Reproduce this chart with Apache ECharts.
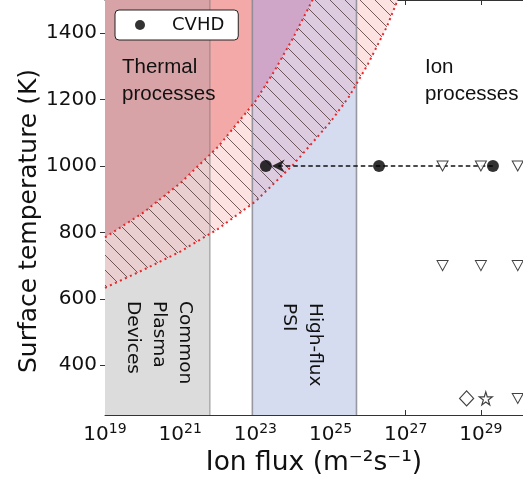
<!DOCTYPE html>
<html>
<head>
<meta charset="utf-8">
<style>
  html, body { margin: 0; padding: 0; background: #fff; }
  #chart { width: 523px; height: 480px; }
</style>
<script src="https://cdn.jsdelivr.net/npm/echarts@6.0.0/dist/echarts.min.js"></script>
</head>
<body>
<div id="chart"></div>
<script>
// x values are log10 of the ion flux (m^-2 s^-1)
var xTicks = [19, 21, 23, 25, 27, 29];
var yTicks = [400, 600, 800, 1000, 1200, 1400];
var commonPlasmaRange = [19, 21.79];
var highFluxRange = [22.92, 25.69];
var upperCurve = [[19, 785], [20, 858], [21, 948], [22, 1057], [23, 1195], [23.5, 1285], [24, 1385], [24.5, 1495], [25, 1620]];
var lowerCurve = [[19, 633], [20, 686], [21, 742], [22, 810], [23, 893], [24, 1003], [25, 1133], [25.5, 1210], [26, 1308], [26.5, 1420], [27, 1560]];
var cvhdPoints = [[23.28, 1000], [26.29, 1000], [29.32, 1000]];
var cvhdArrow = [[23.61, 1000]];
var cvhdTrend = [[23.61, 1000], [29.32, 1000]];
var openTriangles = [[27.98, 1000], [29.0, 1000], [29.98, 1000], [27.98, 700], [29.0, 700], [29.98, 700], [29.98, 300]];
var openDiamonds = [[28.62, 300]];
var openStars = [[29.13, 300]];

var X_MIN = 19, X_MAX = 30.12, Y_MIN = 250, Y_MAX = 1500;

// vertical strips: gray devices, white, blue PSI, white
var strips = [
  [X_MIN, commonPlasmaRange[1]],
  [commonPlasmaRange[1], highFluxRange[0]],
  [highFluxRange[0], highFluxRange[1]],
  [highFluxRange[1], X_MAX]
];
var stripBase = ['#dcdcdc', null, '#d5dcef', null];
var stripThermal = ['#d8a3a7', '#f4a9a9', '#d0a6c8', '#f4a9a9'];
var stripBand = ['#e9cfcf', '#fde2e2', '#ddcce0', '#fde2e2'];

var hatch = document.createElement('canvas');
hatch.width = 15; hatch.height = 15;
var hg = hatch.getContext('2d');
hg.strokeStyle = 'rgba(70,45,45,0.75)';
hg.lineWidth = 1;
[-15, 0, 15].forEach(function (k) {
  hg.beginPath(); hg.moveTo(k, 0); hg.lineTo(k + 15, 15); hg.stroke();
});

function clipHalf(poly, k, v, s) {
  var out = [];
  for (var i = 0; i < poly.length; i++) {
    var p = poly[i], q = poly[(i + 1) % poly.length];
    var pin = s * (p[k] - v) >= 0, qin = s * (q[k] - v) >= 0;
    if (pin) out.push(p);
    if (pin !== qin) {
      var t = (v - p[k]) / (q[k] - p[k]);
      out.push([p[0] + t * (q[0] - p[0]), p[1] + t * (q[1] - p[1])]);
    }
  }
  return out;
}
function clipRect(poly, x0, x1) {
  poly = clipHalf(poly, 0, x0, 1);
  poly = clipHalf(poly, 0, x1, -1);
  poly = clipHalf(poly, 1, Y_MIN, 1);
  poly = clipHalf(poly, 1, Y_MAX, -1);
  return poly;
}

var thermalPoly = upperCurve.concat([[25, 2000], [18, 2000], [18, upperCurve[0][1]]]);
var bandPoly = upperCurve.concat(lowerCurve.slice().reverse());

function renderRegions(params, api) {
  var i = params.dataIndex;
  var x0 = api.value(0), x1 = api.value(1);
  var kids = [];
  var tl = api.coord([x0, Y_MAX]), br = api.coord([x1, Y_MIN]);
  if (stripBase[i]) {
    kids.push({ type: 'rect', shape: { x: tl[0], y: tl[1], width: br[0] - tl[0], height: br[1] - tl[1] }, style: { fill: stripBase[i] } });
  }
  var th = clipRect(thermalPoly, x0, x1);
  if (th.length > 2) {
    kids.push({ type: 'polygon', shape: { points: th.map(function (p) { return api.coord(p); }) }, style: { fill: stripThermal[i] } });
  }
  var bd = clipRect(bandPoly, x0, x1);
  if (bd.length > 2) {
    var pts = bd.map(function (p) { return api.coord(p); });
    kids.push({ type: 'polygon', shape: { points: pts }, style: { fill: stripBand[i] } });
    kids.push({ type: 'polygon', shape: { points: pts }, style: { fill: { image: hatch, repeat: 'repeat' } } });
  }
  return { type: 'group', children: kids };
}

var boundaryColors = ['rgba(120,120,120,0.5)', 'rgba(130,130,140,0.8)', 'rgba(130,130,140,0.8)'];
function renderBounds(params, api) {
  var x = api.value(0);
  var a = api.coord([x, Y_MAX]), b = api.coord([x, Y_MIN]);
  return { type: 'line', shape: { x1: a[0], y1: a[1], x2: b[0], y2: b[1] }, style: { stroke: boundaryColors[params.dataIndex], lineWidth: 1.6 } };
}

var FONT = 'DejaVu Sans';
var chart = echarts.init(document.getElementById('chart'));
chart.setOption({
  animation: false,
  backgroundColor: '#fff',
  grid: { left: 105, right: 0, top: 0, bottom: 65, containLabel: false, outerBoundsMode: 'none' },
  legend: {
    left: 115, top: 10,
    data: ['CVHD'],
    icon: 'circle', itemWidth: 10, itemHeight: 10,
    padding: [6, 14, 6, 20],
    borderColor: '#222', borderWidth: 1, borderRadius: 4,
    backgroundColor: '#fff',
    textStyle: { fontSize: 18, fontFamily: FONT, color: '#111', padding: [0, 0, 0, 22] },
    z: 20
  },
  xAxis: [{
    type: 'value', min: X_MIN, max: X_MAX,
    name: 'Ion flux (m\u207B\u00B2s\u207B\u00B9)', nameLocation: 'middle', nameGap: 30,
    nameTextStyle: { fontSize: 26.5, fontFamily: FONT, color: '#111' },
    axisLine: { show: true, lineStyle: { color: '#333', width: 1 } },
    axisTick: { show: true, inside: true, length: 5, customValues: xTicks, lineStyle: { color: '#333' } },
    axisLabel: {
      customValues: xTicks, margin: 7,
      formatter: function (v) { return '{b|10}{s|' + v + '}'; },
      rich: {
        b: { fontSize: 20, fontFamily: FONT, color: '#111', lineHeight: 26 },
        s: { fontSize: 14, fontFamily: FONT, color: '#111', padding: [0, 0, 12, 0] }
      }
    },
    splitLine: { show: false }
  }, {
    type: 'value', position: 'top', min: X_MIN, max: X_MAX,
    axisLine: { show: true, lineStyle: { color: '#333', width: 1 } },
    axisTick: { show: true, inside: true, length: 5, customValues: xTicks, lineStyle: { color: '#333' } },
    axisLabel: { show: false },
    splitLine: { show: false }
  }],
  yAxis: {
    type: 'value', min: Y_MIN, max: Y_MAX,
    axisLine: { show: true, lineStyle: { color: '#333', width: 1 } },
    axisTick: { show: true, length: 5, customValues: yTicks, lineStyle: { color: '#333' } },
    axisLabel: {
      customValues: yTicks, fontSize: 20, fontFamily: FONT, color: '#111', margin: 8,
      formatter: function (v) { return String(v); }
    },
    splitLine: { show: false }
  },
  graphic: [
    { type: 'text', x: 29, y: 221, rotation: Math.PI / 2, z: 100, style: { text: 'Surface temperature (K)', fontSize: 25, fontFamily: FONT, fill: '#111', align: 'center', verticalAlign: 'middle' } },
    { type: 'text', x: 122, y: 54, z: 100, style: { text: 'Thermal\nprocesses', fontSize: 20.5, fontFamily: 'Liberation Sans', fill: '#111', lineHeight: 27, align: 'left', verticalAlign: 'top' } },
    { type: 'text', x: 425, y: 54, z: 100, style: { text: 'Ion\nprocesses', fontSize: 20.5, fontFamily: 'Liberation Sans', fill: '#111', lineHeight: 27, align: 'left', verticalAlign: 'top' } },
    { type: 'text', x: 198, y: 301, rotation: -Math.PI / 2, z: 100, style: { text: 'Common\nPlasma\nDevices', fontSize: 18.5, fontFamily: FONT, fill: '#111', lineHeight: 26, align: 'left', verticalAlign: 'top' } },
    { type: 'text', x: 328, y: 303, rotation: -Math.PI / 2, z: 100, style: { text: 'High-flux\nPSI', fontSize: 18.5, fontFamily: FONT, fill: '#111', lineHeight: 26, align: 'left', verticalAlign: 'top' } }
  ],
  series: [{
    type: 'custom', z: 1, silent: true,
    renderItem: renderRegions,
    encode: { x: [0, 1] },
    data: strips
  }, {
    type: 'custom', z: 2, silent: true,
    renderItem: renderBounds,
    encode: { x: 0 },
    data: [[commonPlasmaRange[1]], [highFluxRange[0]], [highFluxRange[1]]]
  }, {
    type: 'line', z: 3, data: upperCurve, showSymbol: false, silent: true,
    lineStyle: { color: '#e8262a', width: 2, type: [2, 3.5] }
  }, {
    type: 'line', z: 3, data: lowerCurve, showSymbol: false, silent: true,
    lineStyle: { color: '#e8262a', width: 2, type: [2, 3.5] }
  }, {
    type: 'line', z: 4, data: cvhdTrend, showSymbol: false, silent: true,
    lineStyle: { color: '#111', width: 1.5, type: [4.5, 3] }
  }, {
    name: 'CVHD', type: 'scatter', z: 5, data: cvhdPoints,
    symbol: 'circle', symbolSize: 12,
    itemStyle: { color: '#000' }
  }, {
    type: 'scatter', z: 5, data: cvhdArrow,
    symbol: 'path://M0,5 L10,0 L7,5 L10,10 Z', symbolSize: [13, 13],
    itemStyle: { color: '#000' }
  }, {
    type: 'scatter', z: 5, data: openTriangles,
    symbol: 'triangle', symbolRotate: 180, symbolSize: [11, 10],
    itemStyle: { color: '#fff', borderColor: '#111', borderWidth: 1 }
  }, {
    type: 'scatter', z: 5, data: openDiamonds,
    symbol: 'diamond', symbolSize: [14, 15],
    itemStyle: { color: '#fff', borderColor: '#111', borderWidth: 1.2 }
  }, {
    type: 'scatter', z: 5, data: openStars,
    symbol: 'path://M50,0 L61,35 L98,35 L68,57 L79,91 L50,70 L21,91 L32,57 L2,35 L39,35 Z', symbolSize: [13, 13],
    itemStyle: { color: '#fff', borderColor: '#111', borderWidth: 1.2 }
  }]
});
</script>
</body>
</html>
